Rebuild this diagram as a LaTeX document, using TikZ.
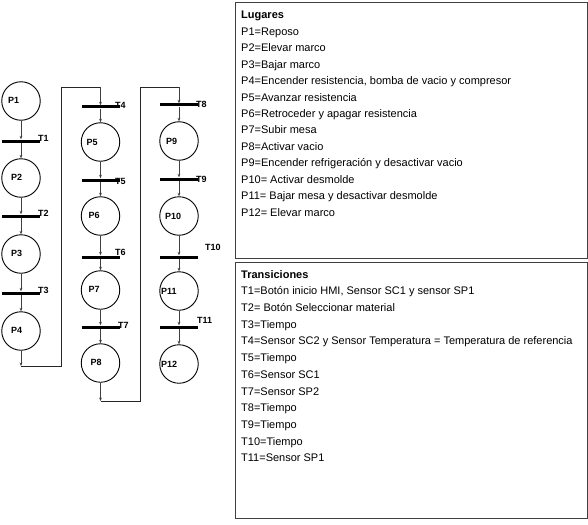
\documentclass[tikz,border=0pt]{standalone}
\usepackage{fontspec}
\setmainfont{Liberation Sans}
\usetikzlibrary{arrows.meta}
\begin{document}
\begin{tikzpicture}[x=1pt,y=-1pt,
  place/.style={circle,draw=black,line width=0.9pt,minimum size=38.5pt,inner sep=0pt},
  tbar/.style={rectangle,fill=black,minimum width=38pt,minimum height=3pt,inner sep=0pt},
  arc/.style={draw=black!75,line width=0.9pt,-{Stealth[length=3.5pt,width=2.8pt]}},
  wire/.style={draw=black!85,line width=0.9pt},
  lbl/.style={font=\fontsize{9}{10}\selectfont\bfseries,inner sep=0pt,anchor=west},
  frame/.style={draw=black!75,line width=0.9pt,rectangle,inner sep=0pt,anchor=north west},
  txt/.style={align=left,inner sep=0pt,anchor=north west},
  ]
\useasboundingbox (0,0) rectangle (588,524);

% places
\node[place] (p1) at (21,101) {};
\node[place] (p2) at (21,178) {};
\node[place] (p3) at (21,254) {};
\node[place] (p4) at (21,331) {};
\node[place] (p5) at (100.5,142) {};
\node[place] (p6) at (100.5,216) {};
\node[place] (p7) at (100.5,290) {};
\node[place] (p8) at (100.5,363) {};
\node[place] (p9) at (179,141) {};
\node[place] (p10) at (179,216) {};
\node[place] (p11) at (179,291) {};
\node[place] (p12) at (179,364) {};

% place labels
\node[lbl] at ([xshift=-13pt,yshift=1pt]p1.center) {P1};
\node[lbl] at ([xshift=-10pt,yshift=1pt]p2.center) {P2};
\node[lbl] at ([xshift=-10pt,yshift=1pt]p3.center) {P3};
\node[lbl] at ([xshift=-10pt,yshift=1pt]p4.center) {P4};
\node[lbl] at ([xshift=-14pt,yshift=0pt]p5.center) {P5};
\node[lbl] at ([xshift=-12pt,yshift=1pt]p6.center) {P6};
\node[lbl] at ([xshift=-12pt,yshift=1pt]p7.center) {P7};
\node[lbl] at ([xshift=-10pt,yshift=1pt]p8.center) {P8};
\node[lbl] at ([xshift=-13pt,yshift=0pt]p9.center) {P9};
\node[lbl] at ([xshift=-14pt,yshift=0pt]p10.center) {P10};
\node[lbl] at ([xshift=-18pt,yshift=0pt]p11.center) {P11};
\node[lbl] at ([xshift=-18pt,yshift=0pt]p12.center) {P12};

% transitions
\node[tbar] (t1) at (21,141) {};
\node[tbar] (t2) at (21,216) {};
\node[tbar] (t3) at (21,293) {};
\node[tbar] (t4) at (100.5,107) {};
\node[tbar] (t5) at (100.5,180) {};
\node[tbar] (t6) at (100.5,257) {};
\node[tbar] (t7) at (100.5,327) {};
\node[tbar] (t8) at (179,105) {};
\node[tbar] (t9) at (179,179) {};
\node[tbar] (t10) at (179,257) {};
\node[tbar] (t11) at (179,327) {};

% transition labels
\node[lbl] at (38,138) {T1};
\node[lbl] at (38,213) {T2};
\node[lbl] at (38,290) {T3};
\node[lbl] at (115,105) {T4};
\node[lbl] at (115,181) {T5};
\node[lbl] at (115,252) {T6};
\node[lbl] at (118,325) {T7};
\node[lbl] at (196,104) {T8};
\node[lbl] at (196,179) {T9};
\node[lbl] at (205,247) {T10};
\node[lbl] at (197,320) {T11};

% arcs
\draw[arc] (p1) -- (t1);
\draw[arc] (t1) -- (p2);
\draw[arc] (p2) -- (t2);
\draw[arc] (t2) -- (p3);
\draw[arc] (p3) -- (t3);
\draw[arc] (t3) -- (p4);
\draw[arc] (t4) -- (p5);
\draw[arc] (p5) -- (t5);
\draw[arc] (t5) -- (p6);
\draw[arc] (p6) -- (t6);
\draw[arc] (t6) -- (p7);
\draw[arc] (p7) -- (t7);
\draw[arc] (t7) -- (p8);
\draw[arc] (t8) -- (p9);
\draw[arc] (p9) -- (t9);
\draw[arc] (t9) -- (p10);
\draw[arc] (p10) -- (t10);
\draw[arc] (t10) -- (p11);
\draw[arc] (p11) -- (t11);
\draw[arc] (t11) -- (p12);

% loops between columns
\coordinate (a1) at (21,366);
\coordinate (a2) at (61.5,366);
\coordinate (a3) at (61.5,87);
\coordinate (a4) at (100.5,87);
\draw[arc] (p4) -- (a1);
\draw[wire] (a1) -- (a2) -- (a3) -- (a4);
\draw[arc] (a4) -- (t4);

\coordinate (b1) at (100.5,401);
\coordinate (b2) at (140,401);
\coordinate (b3) at (140,87);
\coordinate (b4) at (179,87);
\draw[arc] (p8) -- (b1);
\draw[wire] (b1) -- (b2) -- (b3) -- (b4);
\draw[arc] (b4) -- (t8);

% legend boxes
\node[frame,minimum width=352pt,minimum height=255pt] (box1) at (234.5,2.5) {};
\node[frame,minimum width=352pt,minimum height=256pt] (box2) at (234.5,262) {};

\node[txt,font=\fontsize{11}{16.45}\selectfont] (lug) at (241,11) {\textbf{Lugares}\\
P1=Reposo\\
P2=Elevar marco\\
P3=Bajar marco\\
P4=Encender resistencia, bomba de vacio y compresor\\
P5=Avanzar resistencia\\
P6=Retroceder y apagar resistencia\\
P7=Subir mesa\\
P8=Activar vacio\\
P9=Encender refrigeración y desactivar vacio\\
P10= Activar desmolde\\
P11= Bajar mesa y desactivar desmolde\\
P12= Elevar marco};

\node[txt,font=\fontsize{11}{16.7}\selectfont] (tra) at (241,270) {\textbf{Transiciones}\\
T1=Botón inicio HMI, Sensor SC1 y sensor SP1\\
T2= Botón Seleccionar material\\
T3=Tiempo\\
T4=Sensor SC2 y Sensor Temperatura = Temperatura de referencia\\
T5=Tiempo\\
T6=Sensor SC1\\
T7=Sensor SP2\\
T8=Tiempo\\
T9=Tiempo\\
T10=Tiempo\\
T11=Sensor SP1};
\end{tikzpicture}
\end{document}
